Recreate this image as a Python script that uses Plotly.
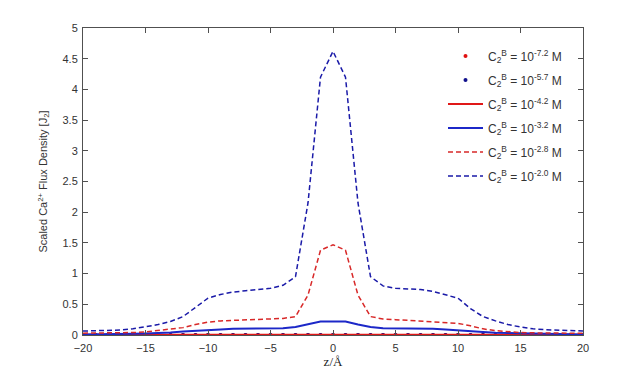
import plotly.graph_objects as go

# z positions (Angstrom), one point per integer
z = list(range(-20, 21))

# scaled Ca2+ flux density for each bulk concentration
flux_72 = [0.0] * 41
flux_57 = [0.0003] * 41
flux_42 = [0.005, 0.005, 0.005, 0.005, 0.006, 0.006, 0.006, 0.007, 0.007, 0.008,
           0.008, 0.008, 0.008, 0.008, 0.008, 0.009, 0.009, 0.009, 0.01, 0.01,
           0.01, 0.01, 0.01, 0.009, 0.009, 0.009, 0.008, 0.008, 0.008, 0.008,
           0.008, 0.008, 0.007, 0.007, 0.006, 0.006, 0.006, 0.005, 0.005, 0.005, 0.005]
flux_32 = [0.01, 0.01, 0.012, 0.015, 0.02, 0.025, 0.03, 0.04, 0.055, 0.07,
           0.08, 0.09, 0.1, 0.1, 0.105, 0.11, 0.11, 0.13, 0.17, 0.22,
           0.22, 0.22, 0.17, 0.13, 0.11, 0.11, 0.105, 0.1, 0.1, 0.09,
           0.08, 0.07, 0.05, 0.035, 0.03, 0.025, 0.02, 0.015, 0.012, 0.01, 0.01]
flux_28 = [0.03, 0.03, 0.03, 0.035, 0.04, 0.05, 0.07, 0.09, 0.12, 0.17,
           0.21, 0.23, 0.24, 0.25, 0.25, 0.26, 0.27, 0.3, 0.65, 1.38,
           1.47, 1.38, 0.65, 0.3, 0.26, 0.25, 0.24, 0.23, 0.22, 0.21,
           0.19, 0.15, 0.1, 0.07, 0.05, 0.04, 0.035, 0.03, 0.03, 0.03, 0.03]
flux_20 = [0.065, 0.068, 0.072, 0.08, 0.1, 0.13, 0.17, 0.22, 0.3, 0.45,
           0.6, 0.66, 0.7, 0.72, 0.74, 0.76, 0.81, 0.95, 2.15, 4.2,
           4.62, 4.2, 2.15, 0.95, 0.8, 0.76, 0.75, 0.74, 0.71, 0.66,
           0.6, 0.43, 0.3, 0.23, 0.17, 0.13, 0.1, 0.085, 0.075, 0.068, 0.065]

labels = ["-7.2", "-5.7", "-4.2", "-3.2", "-2.8", "-2.0"]


def leg(exp):
    return f"C<sub>2</sub><sup>B</sup> = 10<sup>{exp}</sup> M"


fig = go.Figure()
fig.add_trace(go.Scatter(x=z, y=flux_72, mode="markers", name=leg(labels[0]),
                         marker=dict(color="#e01010", size=4)))
fig.add_trace(go.Scatter(x=z, y=flux_57, mode="markers", name=leg(labels[1]),
                         marker=dict(color="#10108c", size=4)))
fig.add_trace(go.Scatter(x=z, y=flux_42, mode="lines", name=leg(labels[2]),
                         line=dict(color="#e01818", width=2)))
fig.add_trace(go.Scatter(x=z, y=flux_32, mode="lines", name=leg(labels[3]),
                         line=dict(color="#1c28c8", width=2)))
fig.add_trace(go.Scatter(x=z, y=flux_28, mode="lines", name=leg(labels[4]),
                         line=dict(color="#d82828", width=1.5, dash="5px,3px")))
fig.add_trace(go.Scatter(x=z, y=flux_20, mode="lines", name=leg(labels[5]),
                         line=dict(color="#1a1aa8", width=1.5, dash="5px,3px")))

for i, tr in enumerate(fig.data):
    tr.legendgroup = f"g{i}"

axis_style = dict(showline=True, linecolor="#505050", linewidth=1, mirror="ticks",
                  ticks="inside", ticklen=5, tickcolor="#505050", showgrid=False,
                  zeroline=False, automargin=False,
                  tickfont=dict(family="Arial", size=11, color="#333333"))

fig.update_xaxes(range=[-20, 20], tickvals=[-20, -15, -10, -5, 0, 5, 10, 15, 20],
                 ticklabelstandoff=3,
                 title=dict(text="z/Å", font=dict(family="Liberation Serif", size=13, color="#222222"),
                            standoff=0),
                 **axis_style)
fig.update_yaxes(range=[0, 5], dtick=0.5, ticklabelstandoff=2,
                 title=dict(text="Scaled Ca<sup>2+</sup> Flux Density [J<sub>2</sub>]",
                            font=dict(family="Arial", size=11, color="#333333"), standoff=12),
                 **axis_style)

# page body adds an 8px offset, so margins are shifted to land the plot box where the reference has it
fig.update_layout(
    width=644, height=378,
    margin=dict(l=75, r=69, t=20, b=51),
    paper_bgcolor="white", plot_bgcolor="white",
    showlegend=True,
    legend=dict(x=0.72, y=0.956, xanchor="left", yanchor="top", bgcolor="rgba(0,0,0,0)",
                font=dict(family="Arial", size=12, color="#333333"), tracegroupgap=5,
                itemwidth=35),
)

fig.write_html("out.html")
